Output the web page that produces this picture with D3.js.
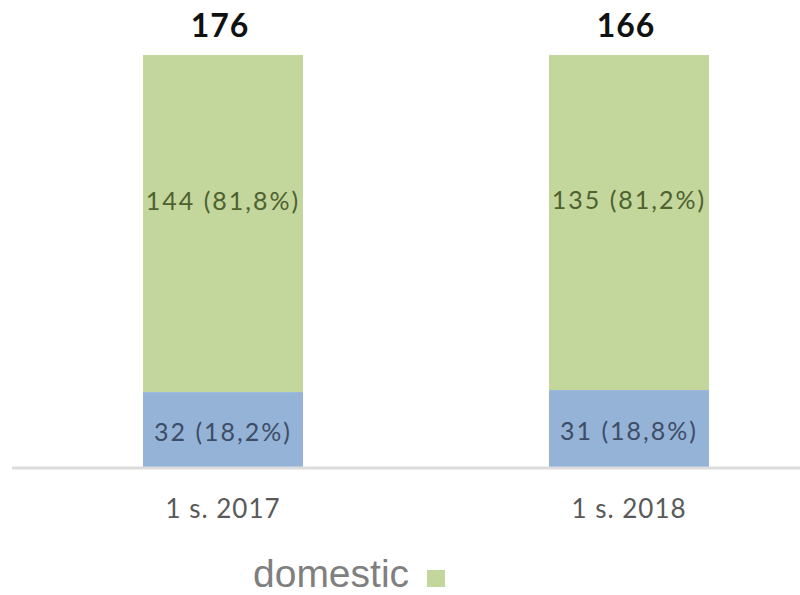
<!DOCTYPE html>
<html>
<head>
<meta charset="utf-8">
<script src="https://cdnjs.cloudflare.com/ajax/libs/d3/7.8.5/d3.min.js"></script>
<style>
  body { margin: 0; background: #fff; }
  svg { display: block; }
</style>
</head>
<body>
<div id="chart"></div>
<script>
var categories = ["1 s. 2017", "1 s. 2018"];
var totals = [176, 166];
var foreignVals = [32, 31];
var foreignPct = ["18,2%", "18,8%"];
var domesticVals = [144, 135];
var domesticPct = ["81,8%", "81,2%"];

var width = 800, height = 595;
var baseY = 467, topY = 55;

var svg = d3.select("#chart").append("svg")
    .attr("width", width)
    .attr("height", height);

var x = d3.scaleBand()
    .domain(categories)
    .range([20, 832])
    .paddingInner(0.5)
    .paddingOuter(0.25);

// bars are stacked to 100%
var y = d3.scaleLinear().domain([0, 100]).range([baseY, topY]);

var rows = categories.map(function(c, i) {
    var fp = foreignVals[i] / totals[i] * 100;
    return {cat: c, total: totals[i], f: foreignVals[i], fp: fp,
            d: domesticVals[i], fLab: foreignPct[i], dLab: domesticPct[i]};
});

var bw = 160;
function cx(d) { return x(d.cat) + x.bandwidth() / 2; }

var bars = svg.selectAll("g.bar").data(rows).enter().append("g").attr("class", "bar");

bars.append("rect")
    .attr("x", function(d) { return cx(d) - bw / 2; })
    .attr("width", bw)
    .attr("y", y(100))
    .attr("height", function(d) { return y(d.fp) - y(100); })
    .attr("fill", "#c3d69b");

bars.append("rect")
    .attr("x", function(d) { return cx(d) - bw / 2; })
    .attr("width", bw)
    .attr("y", function(d) { return y(d.fp); })
    .attr("height", function(d) { return baseY - y(d.fp); })
    .attr("fill", "#95b3d7");

// axis line
svg.append("line")
    .attr("x1", 12).attr("x2", 800)
    .attr("y1", baseY + 1).attr("y2", baseY + 1)
    .attr("stroke", "#dcdcdc")
    .attr("stroke-width", 3);

bars.append("text")
    .attr("x", cx)
    .attr("y", function(d) { return y(100) + (y(d.fp) - y(100)) * 0.43; })
    .attr("text-anchor", "middle")
    .attr("dominant-baseline", "central")
    .attr("font-family", "Lato, sans-serif")
    .attr("font-size", 25)
    .attr("letter-spacing", 2)
    .attr("fill", "#4f6130")
    .text(function(d) { return d.d + " (" + d.dLab + ")"; });

bars.append("text")
    .attr("x", cx)
    .attr("y", function(d) { return (y(d.fp) + baseY) / 2 + 1; })
    .attr("text-anchor", "middle")
    .attr("dominant-baseline", "central")
    .attr("font-family", "Lato, sans-serif")
    .attr("font-size", 25)
    .attr("letter-spacing", 2)
    .attr("fill", "#3d4d66")
    .text(function(d) { return d.f + " (" + d.fLab + ")"; });

bars.append("text")
    .attr("x", function(d) { return cx(d) - 3; })
    .attr("y", 37)
    .attr("text-anchor", "middle")
    .attr("font-family", "Lato, sans-serif")
    .attr("font-weight", "bold")
    .attr("font-size", 32)
    .attr("letter-spacing", 1)
    .attr("fill", "#111")
    .text(function(d) { return d.total; });

bars.append("text")
    .attr("x", cx)
    .attr("y", 518)
    .attr("text-anchor", "middle")
    .attr("font-family", "Lato, sans-serif")
    .attr("font-size", 26)
    .attr("letter-spacing", 1)
    .attr("fill", "#595959")
    .text(function(d) { return d.cat; });

// legend
svg.append("text")
    .attr("x", 253).attr("y", 587)
    .attr("font-family", "'Liberation Sans', Arial, sans-serif")
    .attr("font-size", 39)
    .attr("fill", "#7f7f7f")
    .text("domestic");

svg.append("rect")
    .attr("x", 427).attr("y", 570)
    .attr("width", 18).attr("height", 17)
    .attr("fill", "#c3d69b");
</script>
</body>
</html>
